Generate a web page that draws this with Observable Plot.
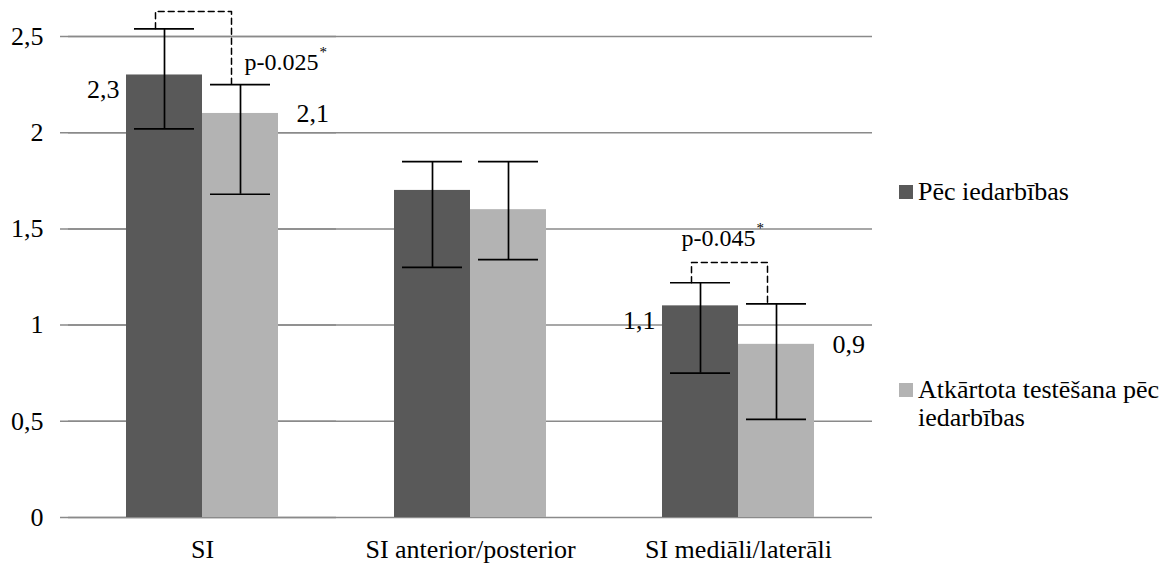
<!DOCTYPE html>
<html>
<head>
<meta charset="utf-8">
<script src="https://cdn.jsdelivr.net/npm/d3@7"></script>
<script src="https://cdn.jsdelivr.net/npm/@observablehq/plot@0.6"></script>
<style>
  html, body { margin: 0; padding: 0; background: #fff; }
</style>
</head>
<body>
<div id="wrap" style="position:relative;width:1172px;height:563px;font-family:'Times New Roman',Tinos,serif">
  <div style="position:absolute;left:899px;top:185px;width:14px;height:14px;background:#595959"></div>
  <div style="position:absolute;left:918px;top:178px;font-family:'Times New Roman',Tinos,serif;font-size:26px;line-height:28px;color:#000;white-space:nowrap">Pēc iedarbības</div>
  <div style="position:absolute;left:899px;top:383px;width:14px;height:14px;background:#b3b3b3"></div>
  <div style="position:absolute;left:918px;top:376px;font-family:'Times New Roman',Tinos,serif;font-size:26px;line-height:28px;color:#000;white-space:nowrap">Atkārtota testēšana pēc<br>iedarbības</div>
</div>
<script>
// ---- data ----
const categories = ["SI", "SI anterior/posterior", "SI mediāli/laterāli"];
const series = ["Pēc iedarbības", "Atkārtota testēšana pēc iedarbības"];
const afterValues = [2.3, 1.7, 1.1];
const repeatValues = [2.1, 1.6, 0.9];
const afterLow = [2.02, 1.30, 0.75];
const afterHigh = [2.54, 1.85, 1.22];
const repeatLow = [1.68, 1.34, 0.51];
const repeatHigh = [2.25, 1.85, 1.11];
const labelledCategories = ["SI", "SI mediāli/laterāli"];
const sigCategories = ["SI", "SI mediāli/laterāli"];
const sigLevels = [2.63, 1.325];
const sigTexts = ["p-0.025", "p-0.045"];
const yTicks = [0, 0.5, 1, 1.5, 2, 2.5];
const colors = ["#595959", "#b3b3b3"];

// ---- layout ----
const W = 1172, H = 563, ML = 68, MR = 300, MT = 36, MB = 46;
const facetW = (W - ML - MR) / categories.length;
const grid = "#8a8a8a";
const FONT = "'Times New Roman', Tinos, serif";
const fmt = d => String(d).replace(".", ",");

const rows = categories.flatMap((c, i) => [
  {cat: c, series: series[0], value: afterValues[i], lo: afterLow[i], hi: afterHigh[i]},
  {cat: c, series: series[1], value: repeatValues[i], lo: repeatLow[i], hi: repeatHigh[i]}
]);
const brackets = sigCategories.flatMap((c, k) => {
  const i = categories.indexOf(c);
  return [
    {cat: c, series: series[0], y: afterHigh[i]},
    {cat: c, series: series[0], y: sigLevels[k]},
    {cat: c, series: series[1], y: sigLevels[k]},
    {cat: c, series: series[1], y: repeatHigh[i]}
  ];
});
const sigRows = sigCategories.map((c, k) => ({cat: c, level: sigLevels[k], text: sigTexts[k]}));
const darkLabels = rows.filter(d => labelledCategories.includes(d.cat) && d.series === series[0]);
const lightLabels = rows.filter(d => labelledCategories.includes(d.cat) && d.series === series[1]);

const chart = Plot.plot({
  width: W, height: H,
  marginLeft: ML, marginRight: MR, marginTop: MT, marginBottom: MB,
  style: {fontFamily: FONT, fontSize: "25px", overflow: "visible", position: "absolute", left: "0px", top: "0px"},
  fx: {domain: categories, padding: 0, label: null},
  x: {domain: series, paddingInner: 0, paddingOuter: 0.763, axis: null},
  y: {domain: [0, 2.5], axis: null},
  color: {domain: series, range: colors},
  marks: [
    Plot.ruleY(yTicks, {stroke: grid, strokeWidth: 1.5}),
    Plot.ruleY(yTicks, {fx: () => categories[0], stroke: grid, strokeWidth: 1.5, insetLeft: -8}),
    Plot.ruleX([0], {fx: () => categories[0], y1: 0, y2: 2.5, dx: -facetW / 2, insetBottom: -8, stroke: grid, strokeWidth: 1.5}),
    Plot.ruleX(categories.slice(1), {fx: d => d, y1: 0, y2: 0, dx: -facetW / 2, insetBottom: -8, stroke: grid, strokeWidth: 1.5}),
    Plot.ruleX([categories[categories.length - 1]], {fx: d => d, y1: 0, y2: 0, dx: facetW / 2, insetBottom: -8, stroke: grid, strokeWidth: 1.5}),
    Plot.barY(rows, {fx: "cat", x: "series", y: "value", fill: "series"}),
    Plot.ruleX(rows, {fx: "cat", x: "series", y1: "lo", y2: "hi", stroke: "#000", strokeWidth: 1.7}),
    Plot.tickY(rows, {fx: "cat", x: "series", y: "hi", insetLeft: 8, insetRight: 8, stroke: "#000", strokeWidth: 1.7}),
    Plot.tickY(rows, {fx: "cat", x: "series", y: "lo", insetLeft: 8, insetRight: 8, stroke: "#000", strokeWidth: 1.7}),
    Plot.line(brackets, {fx: "cat", x: "series", y: "y", z: "cat", dx: -9, stroke: "#000", strokeWidth: 1.5, strokeDasharray: "6,4"}),
    Plot.text(darkLabels, {fx: "cat", x: "series", y: "value", text: d => fmt(d.value), textAnchor: "end", dx: -45, dy: 15, fontSize: 26, fontFamily: FONT}),
    Plot.text(lightLabels, {fx: "cat", x: "series", y: "value", text: d => fmt(d.value), textAnchor: "start", dx: 56, dy: 0, fontSize: 26, fontFamily: FONT}),
    // p-value labels
    Plot.text(sigRows.slice(0, 1), {fx: "cat", x: () => series[1], y: "level", text: "text", textAnchor: "end", dx: 78, dy: 51, fontSize: 24, fontFamily: FONT}),
    Plot.text(sigRows.slice(0, 1), {fx: "cat", x: () => series[1], y: "level", text: () => "*", textAnchor: "start", dx: 79, dy: 41, fontSize: 15, fontFamily: FONT, fill: "#000"}),
    Plot.text(sigRows.slice(1), {fx: "cat", x: () => series[0], y: "level", text: "text", textAnchor: "end", dx: 55, dy: -24, fontSize: 24, fontFamily: FONT}),
    Plot.text(sigRows.slice(1), {fx: "cat", x: () => series[0], y: "level", text: () => "*", textAnchor: "start", dx: 56, dy: -34, fontSize: 15, fontFamily: FONT, fill: "#000"}),
    Plot.axisY({ticks: yTicks, tickFormat: fmt, tickSize: 0, tickPadding: 25, fontSize: 26, fontFamily: FONT, label: null}),
    Plot.axisFx({anchor: "bottom", tickSize: 0, tickPadding: 22, fontSize: 26, fontFamily: FONT, label: null})
  ]
});

const wrap = document.getElementById("wrap");
wrap.insertBefore(chart, wrap.firstChild);
</script>
</body>
</html>
